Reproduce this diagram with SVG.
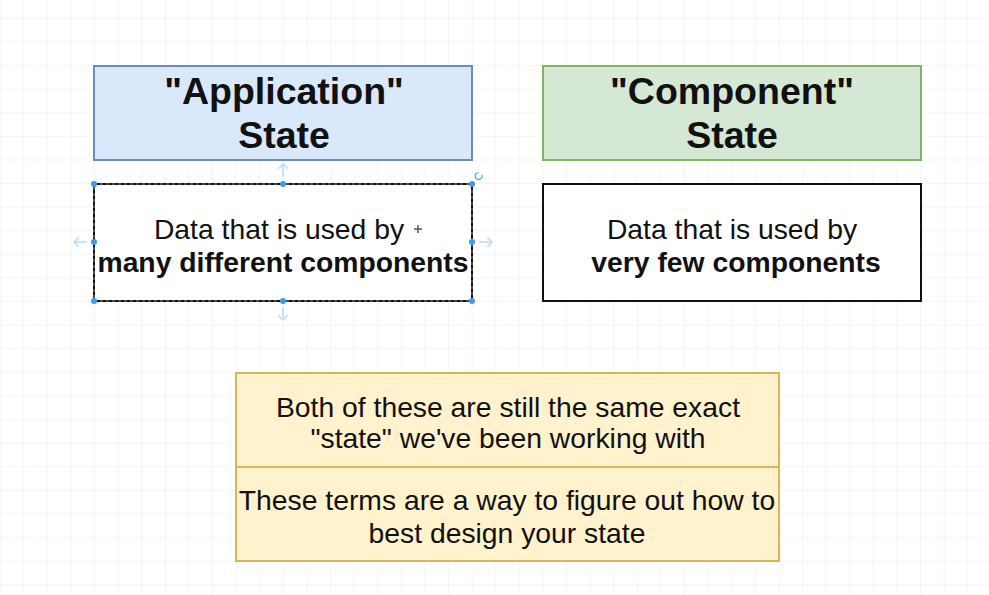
<svg xmlns="http://www.w3.org/2000/svg" width="989" height="595" viewBox="0 0 989 595">
<defs>
<pattern id="grid" x="23.2" y="17.8" width="23.6" height="23.6" patternUnits="userSpaceOnUse">
<path d="M 23.6 0 L 0 0 0 23.6" fill="none" stroke="#ebebeb" stroke-width="1"/>
</pattern>
<style>
.title{font-family:"Liberation Sans",Arial,sans-serif;font-size:37.5px;font-weight:bold;fill:#111;text-anchor:middle}
.body{font-family:"Liberation Sans",Arial,sans-serif;font-size:28.3px;fill:#111;text-anchor:middle}
.b{font-weight:bold}
.handle{fill:#3d9be9}
.hint{fill:none;stroke:#c9e0f5;stroke-width:2;stroke-linecap:round;stroke-linejoin:round}
</style>
</defs>
<rect width="989" height="595" fill="#ffffff"/>
<rect width="989" height="595" fill="url(#grid)"/>

<g id="app-state">
<rect x="94" y="66" width="378" height="94" fill="#dae8fc" stroke="#6c8ebf" stroke-width="2"/>
<text class="title" x="284" y="104">"Application"</text>
<text class="title" x="284" y="148">State</text>
</g>

<g id="component-state">
<rect x="543" y="66" width="378" height="94" fill="#d5e8d4" stroke="#82b366" stroke-width="2"/>
<text class="title" x="732" y="104">"Component"</text>
<text class="title" x="732" y="148">State</text>
</g>

<g id="app-desc">
<rect x="94" y="184" width="378" height="117" fill="#ffffff" stroke="#111" stroke-width="2"/>
<rect x="94" y="184" width="378" height="117" fill="none" stroke="#888" stroke-width="1" stroke-dasharray="3 3"/>
<text class="body" x="279" y="239">Data that is used by</text>
<text class="body b" x="283" y="272">many different components</text>
</g>

<g id="component-desc">
<rect x="543" y="184" width="378" height="117" fill="#ffffff" stroke="#111" stroke-width="2"/>
<text class="body" x="732" y="239">Data that is used by</text>
<text class="body b" x="736" y="272">very few components</text>
</g>

<g id="note">
<rect x="236" y="373" width="543" height="94" fill="#fff2cc" stroke="#d6b656" stroke-width="2"/>
<rect x="236" y="467" width="543" height="94" fill="#fff2cc" stroke="#d6b656" stroke-width="2"/>
<text class="body" x="508" y="417">Both of these are still the same exact</text>
<text class="body" x="508" y="448">"state" we've been working with</text>
<text class="body" x="507" y="510">These terms are a way to figure out how to</text>
<text class="body" x="507" y="543">best design your state</text>
</g>

<g id="connectors"></g>

<g id="selection">
<circle class="handle" cx="94" cy="184" r="3"/>
<circle class="handle" cx="283" cy="184" r="3"/>
<circle class="handle" cx="472" cy="184" r="3"/>
<circle class="handle" cx="94" cy="242" r="3"/>
<circle class="handle" cx="472" cy="242" r="3"/>
<circle class="handle" cx="94" cy="301" r="3"/>
<circle class="handle" cx="283" cy="301" r="3"/>
<circle class="handle" cx="472" cy="301" r="3"/>
<path d="M 478.5 172.5 A 3.5 3.5 0 1 0 482 175" fill="none" stroke="#3d9be9" stroke-width="1.2"/>
<path class="hint" d="M 283 176 L 283 164 M 279 168 L 283 164 L 287 168"/>
<path class="hint" d="M 283 308 L 283 320 M 279 316 L 283 320 L 287 316"/>
<path class="hint" d="M 86 242 L 74 242 M 78 238 L 74 242 L 78 246"/>
<path class="hint" d="M 480 242 L 492 242 M 488 238 L 492 242 L 488 246"/>
<path d="M 418 225 L 418 233 M 414 229 L 422 229" stroke="#555" stroke-width="1.5" fill="none"/>
</g>
</svg>
